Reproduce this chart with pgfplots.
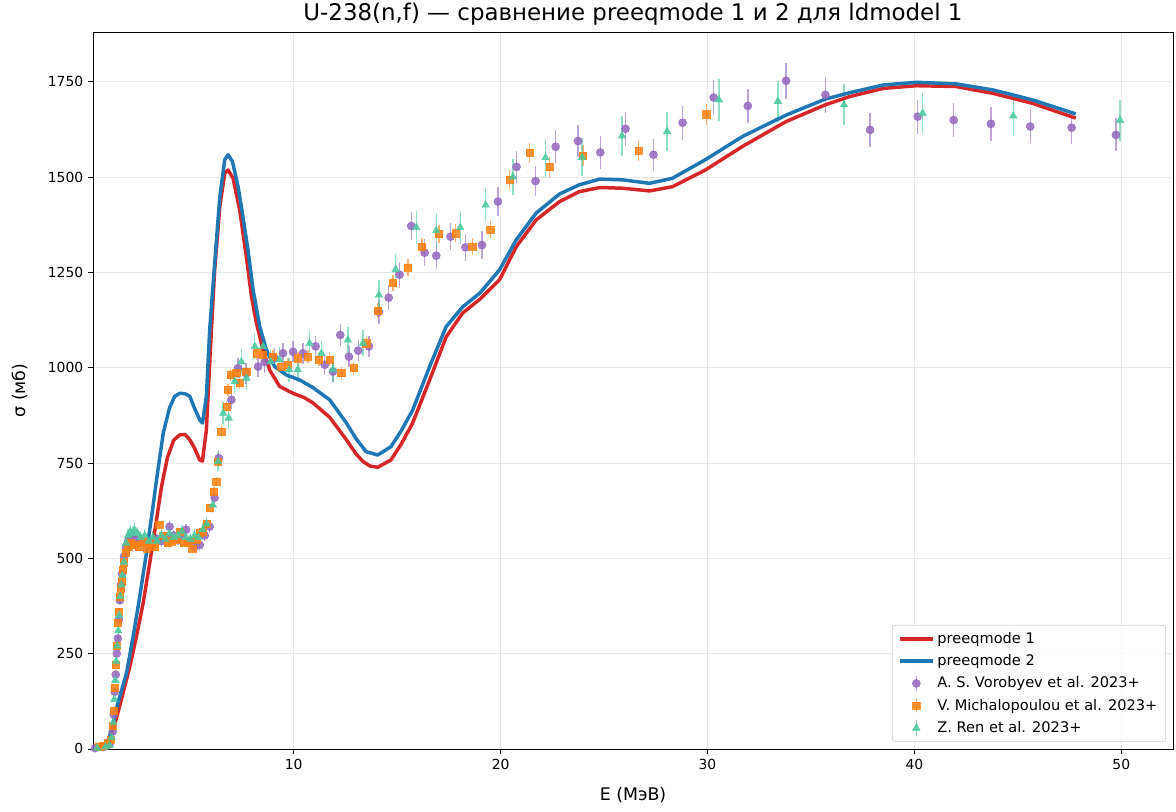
\documentclass[border=0pt]{standalone}
\usepackage{fontspec}
\setmainfont{DejaVu Sans}
\usepackage{pgfplots}
\pgfplotsset{compat=1.18}
\definecolor{cred}{HTML}{D62728}
\definecolor{cblue}{HTML}{1F77B4}
\definecolor{cpurple}{HTML}{9467BD}
\definecolor{corange}{HTML}{FF7F0E}
\definecolor{cgreen}{HTML}{48C9A0}
\begin{document}
\begin{tikzpicture}
\begin{axis}[name=ax, scale only axis, width=777.6pt, height=516.2pt,
  xmin=0.3, xmax=52.5, ymin=0, ymax=1881,
  xtick={10,20,30,40,50}, ytick={0,250,500,750,1000,1250,1500,1750},
  grid=major, grid style={color=black!9, line width=0.6pt},
  tick align=outside, tick pos=left, major tick length=3.5pt,
  tick style={black, line width=0.6pt}, axis line style={line width=0.6pt},
  ticklabel style={font=\fontsize{10}{12}\selectfont},
  /pgf/number format/assume math mode=true, /pgf/number format/1000 sep={},
  xlabel={E (МэВ)}, xlabel style={at={(axis description cs:0.5,-0.0642)}, anchor=center, font=\fontsize{12.5}{14}\selectfont},
  ylabel={σ (мб)}, ylabel style={at={(axis description cs:-0.0676,0.5)}, anchor=center, font=\fontsize{12.5}{14}\selectfont},
  legend style={at={(axis description cs:0.9935,0.0098)}, anchor=south east, font=\fontsize{10.5}{12}\selectfont, draw=black!20, rounded corners=2pt, fill=white, fill opacity=0.8, text opacity=1, draw opacity=1, row sep=2.6pt, inner xsep=4pt, inner ysep=3pt},
  legend cell align=left,
  legend image code/.code={\draw[#1] (0cm,0cm) -- (0.84cm,0cm);},
]
% experimental data (drawn first, legend entries added later)
\addplot[forget plot, only marks, mark=*, mark size=2.9pt, color=cpurple, mark options={fill=cpurple, draw=cpurple, opacity=0.85},
  error bars/.cd, y dir=both, y fixed relative=0.027, error mark=none, error bar style={line width=1pt, cpurple, opacity=0.6}]
table {
x y
0.4 2
0.8 5
1.1 12
1.25 45
1.3 90
1.35 150
1.4 195
1.45 250
1.5 290
1.55 340
1.6 390
1.65 430
1.7 460
1.8 505
1.9 530
2.0 545
2.2 560
2.4 550
2.6 545
2.8 540
3.0 535
3.2 545
3.4 550
3.6 545
3.8 555
4.0 583
4.2 560
4.4 550
4.6 565
4.8 575
5.0 545
5.2 530
5.46 535
5.7 560
5.94 583
6.18 659
6.38 763
6.99 916
7.31 999
7.7 985
8.28 1003
8.6 1015
9.08 1025
9.48 1038
9.97 1042
10.45 1038
11.06 1056
11.5 1008
11.9 990
12.25 1086
12.67 1029
13.12 1045
13.64 1056
14.12 1147
14.59 1184
15.12 1244
15.68 1372
16.33 1302
16.89 1294
17.58 1344
18.3 1316
19.1 1322
19.87 1436
20.77 1527
21.69 1490
22.66 1580
23.74 1595
24.82 1565
26.04 1627
27.39 1559
28.8 1643
30.3 1709
31.95 1687
33.8 1753
35.7 1716
37.86 1624
40.16 1659
41.9 1650
43.7 1640
45.6 1633
47.6 1630
49.74 1611
};
\addplot[forget plot, only marks, mark=square*, mark size=2.6pt, color=corange, mark options={fill=corange, draw=corange, opacity=0.85},
  error bars/.cd, y dir=both, y fixed relative=0.017, error mark=none, error bar style={line width=1pt, corange, opacity=0.6}]
table {
x y
0.6 5
0.8 8
1.0 15
1.15 25
1.25 60
1.3 100
1.35 160
1.4 220
1.45 270
1.5 330
1.55 360
1.6 400
1.65 420
1.7 440
1.75 470
1.8 490
1.9 515
2.0 530
2.1 540
2.3 535
2.5 530
2.7 545
2.9 525
3.1 540
3.3 530
3.5 588
3.7 560
3.9 540
4.1 545
4.3 550
4.5 570
4.7 540
4.9 545
5.1 525
5.3 550
5.46 567
5.6 570
5.8 590
5.94 632
6.15 675
6.26 701
6.34 754
6.5 833
6.75 898
6.83 942
6.96 981
7.23 986
7.39 960
7.71 990
8.2 1038
8.52 1034
9.0 1029
9.4 1003
9.72 1008
10.2 1025
10.69 1029
11.22 1021
11.74 1021
12.3 986
12.9 999
13.51 1064
14.07 1150
14.8 1222
15.52 1263
16.2 1318
17.02 1351
17.83 1353
18.63 1318
19.5 1363
20.43 1493
21.4 1564
22.37 1527
23.98 1557
26.67 1570
29.94 1665
};
\addplot[forget plot, only marks, mark=triangle*, mark size=3.1pt, color=cgreen, mark options={fill=cgreen, draw=cgreen, opacity=0.85},
  error bars/.cd, y dir=both, y fixed relative=0.032, error mark=none, error bar style={line width=1pt, cgreen, opacity=0.6}]
table {
x y
0.5 2
0.9 5
1.1 10
1.2 30
1.28 70
1.33 130
1.38 180
1.42 230
1.47 270
1.52 310
1.57 350
1.62 400
1.67 430
1.72 455
1.8 490
1.9 540
2.0 560
2.1 570
2.2 565
2.3 575
2.45 565
2.6 555
2.8 560
3.0 545
3.2 555
3.4 545
3.6 560
3.8 550
4.0 565
4.2 555
4.4 560
4.6 570
4.8 555
5.0 550
5.2 560
5.4 555
5.6 575
5.8 590
6.09 640
6.34 754
6.59 881
6.86 868
7.15 964
7.47 1016
7.71 973
8.12 1056
8.52 1056
8.89 1016
9.32 1021
9.78 995
10.2 995
10.77 1064
11.34 1038
11.9 995
12.62 1073
13.35 1064
14.12 1191
14.93 1258
15.93 1368
16.89 1360
18.05 1368
19.28 1427
20.6 1501
22.17 1551
23.94 1552
25.87 1608
28.05 1620
30.55 1703
33.4 1699
36.6 1690
40.4 1668
44.78 1661
49.94 1649
};
% model curves
\addplot[cred, line width=2.5pt, line join=round] table {
x y
0.5 0
1.0 15
1.2 40
1.43 80
1.75 146
2.08 216
2.4 295
2.72 382
3.04 487
3.37 601
3.61 688
3.9 765
4.2 810
4.49 824
4.75 825
4.98 811
5.2 790
5.46 758
5.59 755
5.78 837
5.94 1012
6.18 1257
6.43 1423
6.67 1511
6.83 1519
7.07 1497
7.39 1414
7.71 1292
7.96 1187
8.2 1117
8.52 1047
8.84 994
9.32 951
9.97 933
10.5 922
10.93 908
11.74 870
12.55 811
13.0 775
13.35 754
13.7 742
14.06 739
14.7 758
15.2 800
15.75 855
16.57 968
17.37 1081
18.17 1144
19.0 1180
19.95 1231
20.76 1318
21.72 1388
22.85 1436
23.8 1462
24.8 1473
25.9 1471
27.2 1464
28.3 1475
29.9 1519
31.7 1581
33.8 1646
35.7 1690
36.9 1712
38.5 1733
40.1 1740
42.0 1738
43.8 1720
45.7 1694
47.8 1655
};
\addlegendentry{preeqmode 1}
\addplot[cblue, line width=2.5pt, line join=round] table {
x y
0.5 0
1.0 18
1.2 50
1.5 120
1.92 199
2.24 295
2.56 400
2.88 513
3.2 636
3.37 706
3.7 830
4.0 895
4.25 925
4.49 933
4.75 932
4.98 925
5.2 895
5.46 863
5.59 855
5.78 925
5.94 1099
6.18 1274
6.43 1449
6.67 1546
6.83 1559
7.04 1541
7.31 1476
7.47 1423
7.79 1310
8.04 1204
8.36 1108
8.68 1047
9.08 1003
9.65 981
10.29 968
10.93 948
11.74 916
12.55 855
13.0 815
13.5 780
14.06 771
14.7 793
15.2 835
15.75 889
16.57 1003
17.37 1108
18.17 1160
19.0 1196
19.95 1257
20.76 1336
21.72 1406
22.85 1456
23.8 1480
24.8 1495
25.9 1493
27.2 1484
28.3 1497
29.9 1546
31.7 1607
33.8 1663
35.7 1705
36.9 1722
38.5 1742
40.1 1749
42.0 1745
43.8 1729
45.7 1703
47.8 1666
};
\addlegendentry{preeqmode 2}
\addlegendimage{legend image code/.code={\draw[cpurple, opacity=0.6, mark=|, mark size=0.2cm, mark options={line width=1pt}] plot coordinates {(0.42cm,0cm)}; \draw[cpurple, mark=*, mark size=2.9pt, mark options={fill=cpurple, opacity=0.85}] plot coordinates {(0.42cm,0cm)};}}
\addlegendentry{A. S. Vorobyev et al. 2023+}
\addlegendimage{legend image code/.code={\draw[corange, opacity=0.6, mark=|, mark size=0.17cm, mark options={line width=1pt}] plot coordinates {(0.42cm,0cm)}; \draw[corange, mark=square*, mark size=2.6pt, mark options={fill=corange, opacity=0.85}] plot coordinates {(0.42cm,0cm)};}}
\addlegendentry{V. Michalopoulou et al. 2023+}
\addlegendimage{legend image code/.code={\draw[cgreen, opacity=0.6, mark=|, mark size=0.21cm, mark options={line width=1pt}] plot coordinates {(0.42cm,0cm)}; \draw[cgreen, mark=triangle*, mark size=3.1pt, mark options={fill=cgreen, opacity=0.85}] plot coordinates {(0.42cm,0cm)};}}
\addlegendentry{Z. Ren et al. 2023+}
\end{axis}
\node[font=\fontsize{16.5}{19}\selectfont, anchor=center] at ([yshift=12.96pt]ax.north) {U-238(n,f) — сравнение preeqmode 1 и 2 для ldmodel 1};
\pgfresetboundingbox
\path ([xshift=-66.96pt,yshift=-45.36pt]ax.south west) rectangle ([xshift=2.16pt,yshift=23.04pt]ax.north east);
\end{tikzpicture}
\end{document}
